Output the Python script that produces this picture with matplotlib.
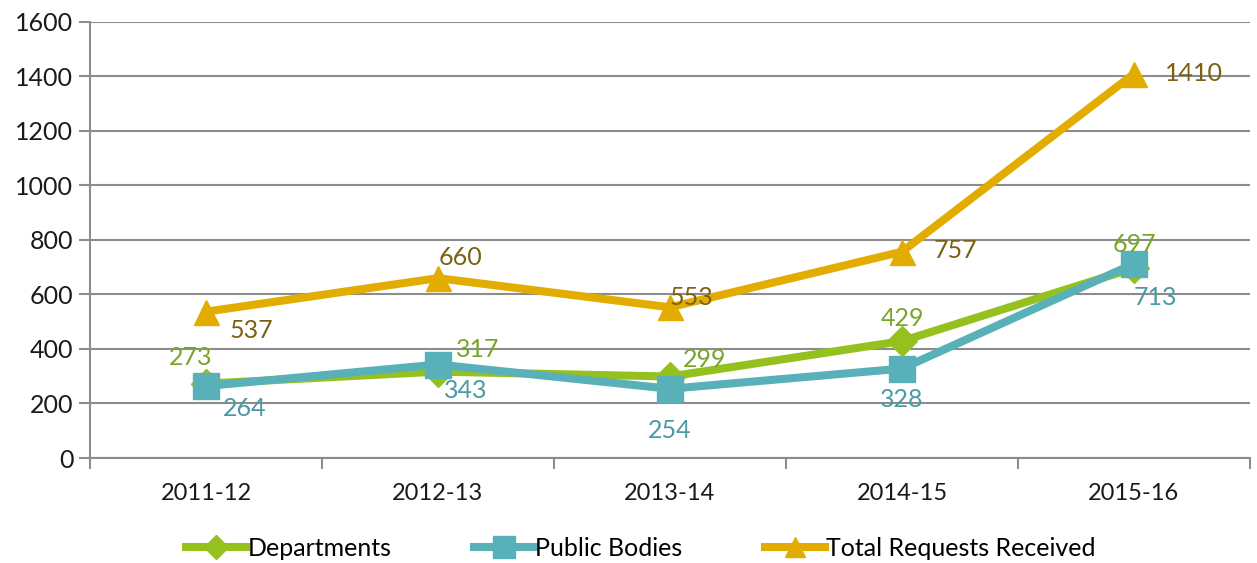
import matplotlib.pyplot as plt
import numpy as np

years = ["2011-12", "2012-13", "2013-14", "2014-15", "2015-16"]
departments = [273, 317, 299, 429, 697]
public_bodies = [264, 343, 254, 328, 713]
total_requests = [537, 660, 553, 757, 1410]

# label offsets (pixels) copied from how the labels sit in the original
dept_off = [(-15, 26), (40, 22), (35, 17), (1, 23), (0, 24)]
pub_off = [(39, -22), (28, -26), (0, -42), (0, -31), (21, -34)]
tot_off = [(45, -19), (23, 21), (21, 10), (53, 1), (60, 0)]

plt.rcParams['font.family'] = ['Lato', 'DejaVu Sans']

fig = plt.figure(figsize=(12.57, 5.63), dpi=100)
ax = fig.add_axes([0.0716, 0.1865, 0.9228, 0.7745])

x = np.arange(len(years))
grey = '#8c8c8c'

ax.plot(x, departments, color='#95c11f', lw=5.8, marker='D', ms=15, label='Departments', zorder=3)
ax.plot(x, public_bodies, color='#58b0b9', lw=5.8, marker='s', ms=19, label='Public Bodies', zorder=4)
ax.plot(x, total_requests, color='#e2ad00', lw=5.8, marker='^', ms=18, label='Total Requests Received', zorder=5)

for i in range(len(x)):
    ax.annotate(str(departments[i]), (x[i], departments[i]), xytext=dept_off[i],
                textcoords='offset pixels', ha='center', va='center', fontsize=18, color='#7aa52b', zorder=6)
    ax.annotate(str(public_bodies[i]), (x[i], public_bodies[i]), xytext=pub_off[i],
                textcoords='offset pixels', ha='center', va='center', fontsize=18, color='#4a99a3', zorder=6)
    ax.annotate(str(total_requests[i]), (x[i], total_requests[i]), xytext=tot_off[i],
                textcoords='offset pixels', ha='center', va='center', fontsize=18, color='#7a6014', zorder=6)

ax.set_xlim(-0.5, len(years) - 0.5)
ax.set_ylim(0, 1600)
ax.set_yticks(np.arange(0, 1601, 200))
ax.yaxis.grid(True, color=grey, lw=1.5)
ax.set_axisbelow(True)

ax.set_xticks(x)
ax.set_xticklabels(years, fontsize=17)
ax.set_xticks(np.arange(-0.5, len(years), 1), minor=True)
ax.tick_params(axis='x', which='major', length=0, pad=18)
ax.tick_params(axis='x', which='minor', length=8, width=1.5, color=grey)
ax.tick_params(axis='y', length=8, width=1.5, color=grey, labelsize=18, pad=4, labelcolor='#1a1a1a')
ax.tick_params(axis='x', labelcolor='#1a1a1a')

for s in ['top', 'right']:
    ax.spines[s].set_visible(False)
for s in ['left', 'bottom']:
    ax.spines[s].set_color(grey)
    ax.spines[s].set_linewidth(1.5)

fig.legend(loc='lower center', bbox_to_anchor=(0.51, -0.035), ncol=3, frameon=False,
           fontsize=18, handlelength=2.4, handletextpad=0.05, columnspacing=3.3, markerscale=0.8)

fig.savefig('out.png')
